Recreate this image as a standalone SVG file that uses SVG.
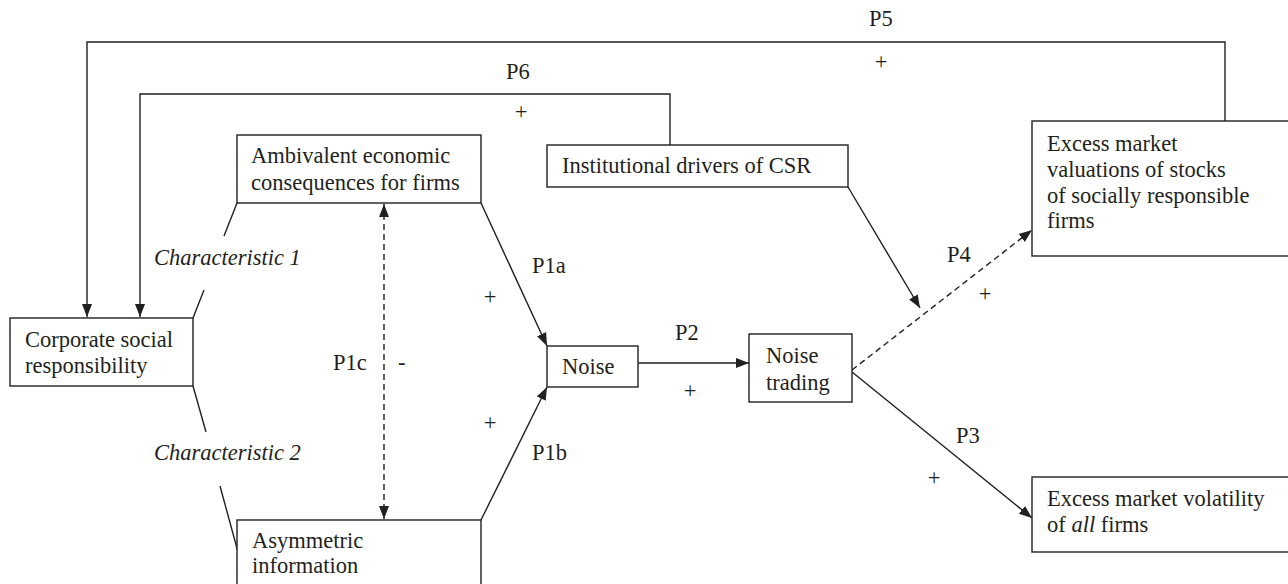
<svg xmlns="http://www.w3.org/2000/svg" width="1288" height="584" viewBox="0 0 1288 584">
<defs>
<style>
.box{fill:#fff;stroke:#231f20;stroke-width:1.4}
.t{font-family:"Liberation Serif","Times New Roman",serif;font-size:22.5px;fill:#231f20}
.i{font-style:italic}
.m{text-anchor:middle}
.c{fill:none;stroke:#231f20;stroke-width:1.4}
.d{stroke-dasharray:6 4}
</style>
<marker id="ah" markerUnits="userSpaceOnUse" markerWidth="14" markerHeight="12" refX="13" refY="5" orient="auto-start-reverse" viewBox="0 0 14 10">
<path d="M0,0 L13,5 L0,10 z" fill="#231f20"/>
</marker>
</defs>
<rect width="1288" height="584" fill="#fff"/>
<g id="connectors">
<path class="c" d="M1225,121 V42 H87 V317" marker-end="url(#ah)"/>
<path class="c" d="M670,145 V94 H140 V317" marker-end="url(#ah)"/>
<path class="c" d="M481,203 L547,346" marker-end="url(#ah)"/>
<path class="c" d="M481,520 L547,387" marker-end="url(#ah)"/>
<path class="c d" d="M384,204 V519" marker-start="url(#ah)" marker-end="url(#ah)"/>
<path class="c" d="M638,363 H749" marker-end="url(#ah)"/>
<path class="c" d="M848,187 L920,308" marker-end="url(#ah)"/>
<path class="c d" d="M852,370 L1032,230" marker-end="url(#ah)"/>
<path class="c" d="M852,372 L1032,518" marker-end="url(#ah)"/>
<path class="c" d="M193,318 L204,290 M224,236 L237,203 M193,386 L206,432 M220,486 L238,552"/>
</g>
<g id="labels">
<text class="t" x="869" y="26">P5</text>
<text class="t m" x="881" y="69">+</text>
<text class="t" x="506" y="79">P6</text>
<text class="t m" x="521" y="119">+</text>
<text class="t" x="532" y="273">P1a</text>
<text class="t m" x="490" y="304">+</text>
<text class="t m" x="490" y="430">+</text>
<text class="t" x="532" y="460">P1b</text>
<text class="t" x="333" y="370">P1c</text>
<text class="t" x="398" y="370">-</text>
<text class="t" x="675" y="340">P2</text>
<text class="t m" x="690" y="398">+</text>
<text class="t" x="947" y="262">P4</text>
<text class="t m" x="985" y="301">+</text>
<text class="t" x="956" y="443">P3</text>
<text class="t m" x="934" y="485">+</text>
<text class="t i" x="154" y="265">Characteristic 1</text>
<text class="t i" x="154" y="460">Characteristic 2</text>
</g>
<g id="csr">
<rect class="box" x="10" y="318" width="183" height="68"/>
<text class="t" x="25" y="347">Corporate social</text>
<text class="t" x="25" y="373">responsibility</text>
</g>
<g id="ambivalent">
<rect class="box" x="237" y="135" width="244" height="68"/>
<text class="t" x="251" y="163">Ambivalent economic</text>
<text class="t" x="251" y="190">consequences for firms</text>
</g>
<g id="asymmetric">
<rect class="box" x="237" y="520" width="244" height="80"/>
<text class="t" x="252" y="548">Asymmetric</text>
<text class="t" x="252" y="573">information</text>
</g>
<g id="institutional">
<rect class="box" x="547" y="145" width="301" height="42"/>
<text class="t" x="562" y="173">Institutional drivers of CSR</text>
</g>
<g id="noise">
<rect class="box" x="547" y="346" width="91" height="41"/>
<text class="t" x="562" y="374">Noise</text>
</g>
<g id="noise-trading">
<rect class="box" x="749" y="334" width="103" height="68"/>
<text class="t" x="766" y="363">Noise</text>
<text class="t" x="766" y="390">trading</text>
</g>
<g id="valuations">
<rect class="box" x="1032" y="121" width="270" height="135"/>
<text class="t" x="1047" y="151">Excess market</text>
<text class="t" x="1047" y="177">valuations of stocks</text>
<text class="t" x="1047" y="203">of socially responsible</text>
<text class="t" x="1047" y="228">firms</text>
</g>
<g id="volatility">
<rect class="box" x="1032" y="477" width="270" height="75"/>
<text class="t" x="1047" y="506">Excess market volatility</text>
<text class="t" x="1047" y="532">of <tspan class="i">all</tspan> firms</text>
</g>
</svg>
